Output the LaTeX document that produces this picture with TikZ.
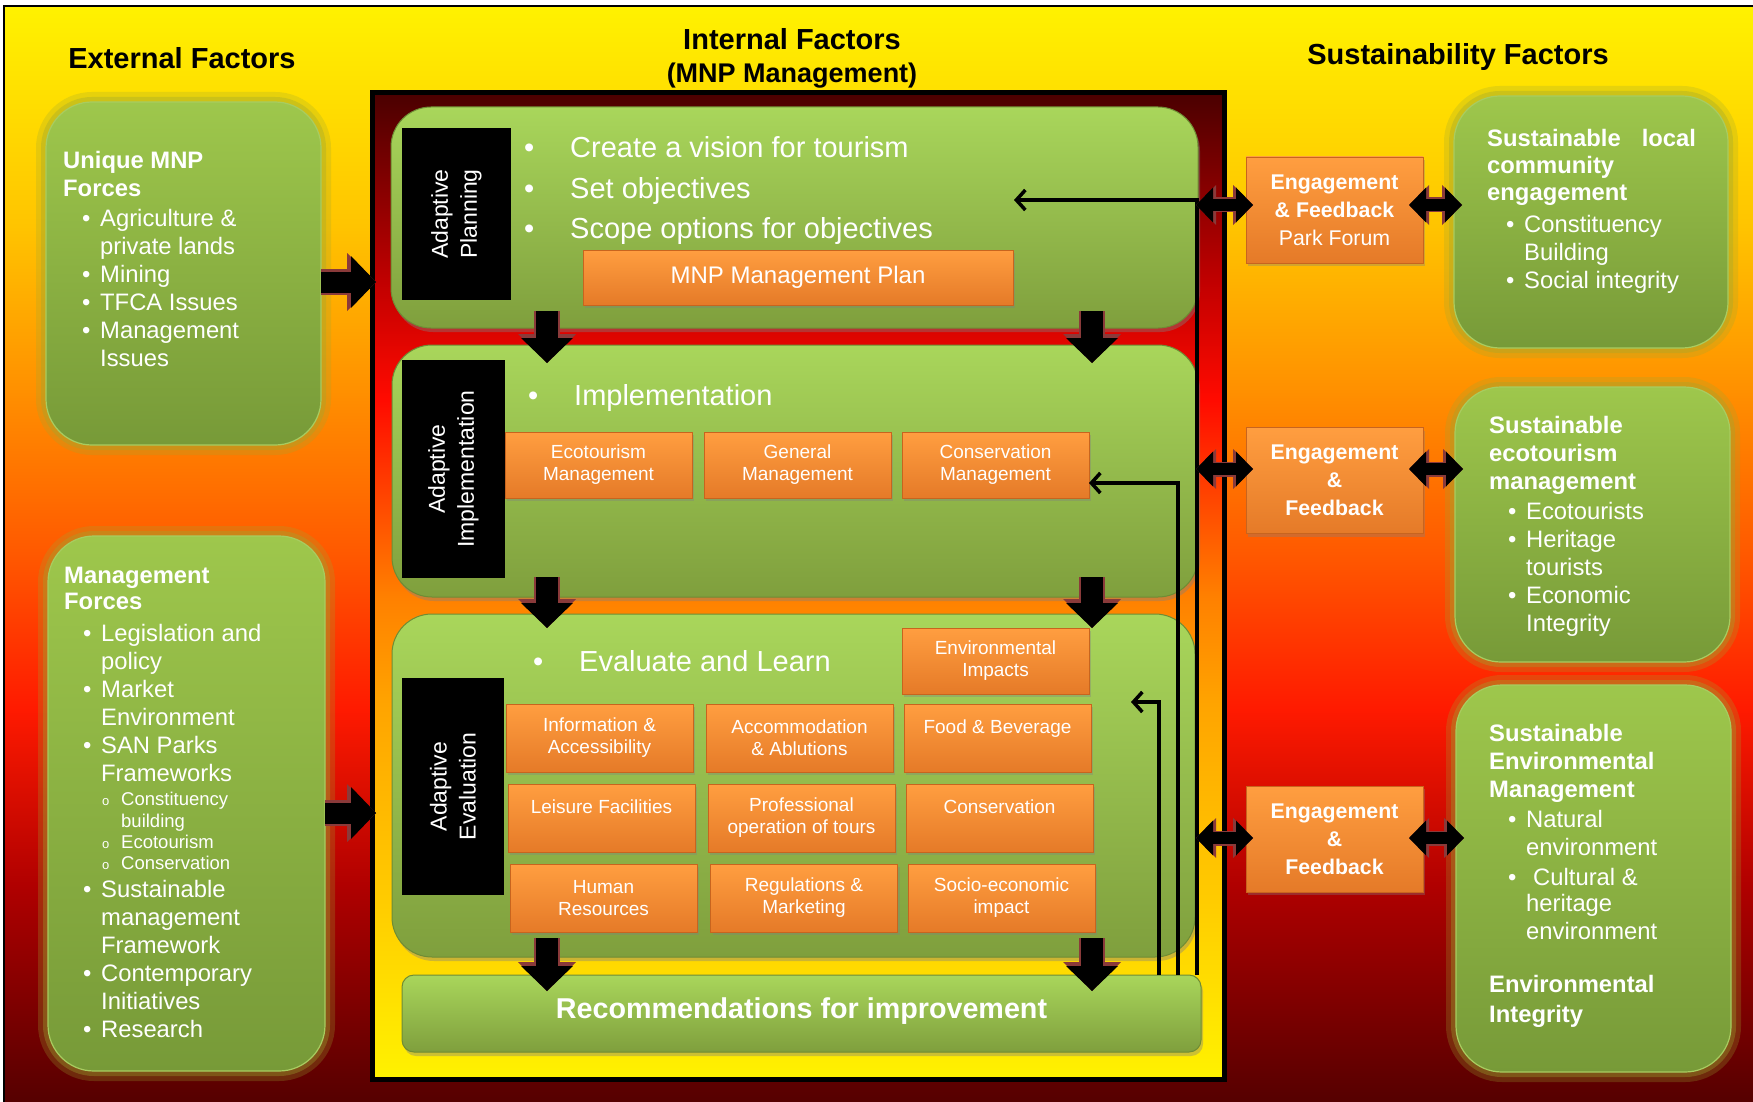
\documentclass[tikz,border=0pt]{standalone}
\usepackage{fontspec}
\setmainfont{Liberation Sans}
\usetikzlibrary{arrows.meta,shadows}

\definecolor{bgyellow}{HTML}{FFF200}
\definecolor{bggold}{HTML}{FFC400}
\definecolor{bgorange}{HTML}{FF9000}
\definecolor{bgdeep}{HTML}{FF5800}
\definecolor{bgred}{HTML}{FF1A00}
\definecolor{bgmaroon}{HTML}{B00000}
\definecolor{bgdark}{HTML}{540000}
\definecolor{frdark}{HTML}{4A0000}
\definecolor{frbrown}{HTML}{700000}
\definecolor{frcrimson}{HTML}{C00000}
\definecolor{frred}{HTML}{FF0A00}
\definecolor{frorange}{HTML}{FF8000}
\definecolor{framber}{HTML}{FFA400}
\definecolor{frgold}{HTML}{FFCC00}
\definecolor{greentop}{HTML}{9EC74C}
\definecolor{greenbot}{HTML}{779A38}
\definecolor{greenedge}{HTML}{A8CC60}
\definecolor{glowc}{HTML}{9CA830}
\definecolor{igreentop}{HTML}{A9D65B}
\definecolor{igreenbot}{HTML}{7F9F3D}
\definecolor{igreenedge}{HTML}{6F8C34}
\definecolor{orangetop}{HTML}{FF9E40}
\definecolor{orangebot}{HTML}{E57A28}
\definecolor{orangeedge}{HTML}{C8641E}
\definecolor{arrowrim}{HTML}{8A3A3A}

\pgfdeclareverticalshading{bgshade}{100bp}{color(0bp)=(bgdark); color(25bp)=(bgdark); color(35bp)=(bgmaroon); color(43bp)=(bgred); color(50bp)=(bgdeep); color(57.5bp)=(bgorange); color(65bp)=(bggold); color(75bp)=(bgyellow); color(100bp)=(bgyellow)}
\pgfdeclareverticalshading{frameshade}{100bp}{color(0bp)=(bgyellow); color(25bp)=(bgyellow); color(34bp)=(frgold); color(44bp)=(framber); color(49.5bp)=(frorange); color(59.5bp)=(frred); color(65.5bp)=(frcrimson); color(72bp)=(frbrown); color(75bp)=(frdark); color(100bp)=(frdark)}

\newcommand{\fsz}[2]{\fontsize{#1}{#2}\selectfont}
\newcommand{\bitem}{\hspace*{19pt}\makebox[18pt][l]{\textbullet}}
\newcommand{\bcont}{\hspace*{37pt}}
\newcommand{\sitem}{\hspace*{38pt}\makebox[19pt][l]{\fsz{13}{13}o}}
\newcommand{\scont}{\hspace*{57pt}}
\newcommand{\bigb}{\makebox[46pt][l]{\textbullet}}

\begin{document}
\begin{tikzpicture}[x=1pt,y=-1pt,
	ttl/.style={font=\bfseries\fsz{29}{33}, text=black, align=center},
	lst/.style={font=\fsz{23.8}{28}, text=white, align=left, anchor=north west, inner sep=0pt},
	big/.style={font=\fsz{29}{40.5}, text=white, align=left, anchor=base west, inner sep=0pt},
	outbox/.style={rounded corners=46pt, top color=greentop, bottom color=greenbot, draw=greenedge, line width=1.2pt, inner sep=0pt, outer sep=0pt,
		preaction={draw=glowc, line width=20pt, opacity=.25},
		preaction={draw=glowc, line width=10pt, opacity=.35}},
	inbox/.style={rounded corners=40pt, top color=igreentop, bottom color=igreenbot, draw=igreenedge, line width=1pt, inner sep=0pt, outer sep=0pt,
		drop shadow={shadow xshift=2pt, shadow yshift=-4pt, opacity=.4}},
	blackbox/.style={fill=black, text=white, rotate=90, align=center, font=\fsz{23}{29}, inner sep=0pt, outer sep=0pt},
	obox/.style={top color=orangetop, bottom color=orangebot, draw=orangeedge, line width=.8pt, text=white, align=center, font=\fsz{19}{22},
		minimum width=187pt, minimum height=68pt, inner sep=2pt, outer sep=0pt, drop shadow={shadow xshift=2pt, shadow yshift=-3pt, opacity=.35}},
	engbox/.style={obox, font=\fsz{21.3}{28}, minimum width=177pt, minimum height=106pt},
	blk/.style={draw=black, line width=22pt, -{Triangle[length=25pt,width=52pt,line width=0pt]},
		preaction={draw=arrowrim, line width=26pt, -{Triangle[length=29pt,width=58pt,line width=0pt]}}},
	dbl/.style={draw=black, line width=12pt, {Triangle[length=17pt,width=35pt,line width=0pt]}-{Triangle[length=17pt,width=35pt,line width=0pt]},
		preaction={draw=arrowrim, line width=15pt, {Triangle[length=20pt,width=40pt,line width=0pt]}-{Triangle[length=20pt,width=40pt,line width=0pt]}}},
	fb/.style={draw=black, line width=3.5pt, -{Straight Barb[length=9pt,width=20pt]}}
]
\useasboundingbox (0,0) rectangle (1753,1102);
\shadedraw[shading=bgshade, draw=black, line width=1.5pt] (4,6) rectangle (1756,1105);

% titles
\node[ttl] (extttl) at (182,58) {External Factors};
\node[ttl] (intttl) at (792,58.5) {Internal Factors\\{\fsz{27}{33}(MNP Management)}};
\node[ttl] (susttl) at (1458,57) {Sustainability Factors};

% external and sustainability boxes
\node[outbox, minimum width=275pt, minimum height=343pt] (uqbox) at (183.5,273.5) {};
\node[outbox, minimum width=277pt, minimum height=535pt] (mgbox) at (186.5,803.5) {};
\node[outbox, minimum width=274pt, minimum height=252pt] (susA) at (1591,222) {};
\node[outbox, minimum width=275pt, minimum height=275pt] (susB) at (1592.5,524.5) {};
\node[outbox, minimum width=275pt, minimum height=387pt] (susC) at (1593.5,878.5) {};

\node[lst] (uqtxt) at (63,148.9) {\strut\textbf{Unique MNP}\\\textbf{Forces}\\[2pt]
	\bitem Agriculture \&\\\bcont private lands\\\bitem Mining\\\bitem TFCA Issues\\\bitem Management\\\bcont Issues};
\node[lst] (mgtxt) at (64,563.9) {\strut\textbf{Management}\\[-2pt]\textbf{Forces}\\[4pt]
	\bitem Legislation and\\\bcont policy\\\bitem Market\\\bcont Environment\\\bitem SAN Parks\\\bcont Frameworks\\[-4pt]
	{\fsz{18.5}{21}\sitem Constituency}\\[-6.7pt]{\fsz{18.5}{21}\scont building}\\[-6.7pt]
	{\fsz{18.5}{21}\sitem Ecotourism}\\[-6.7pt]{\fsz{18.5}{21}\sitem Conservation}\\
	\bitem Sustainable\\\bcont management\\\bcont Framework\\\bitem Contemporary\\\bcont Initiatives\\\bitem Research};
\node[lst] (susAtxt) at (1487,126.9) {\strut\textbf{Sustainable\hspace{21pt}local}\\[-1pt]\textbf{community}\\[-1pt]\textbf{engagement}\\[4pt]
	\bitem Constituency\\\bcont Building\\\bitem Social integrity};
\node[lst] (susBtxt) at (1489,414) {\strut\textbf{Sustainable}\\\textbf{ecotourism}\\\textbf{management}\\[2pt]
	\bitem Ecotourists\\\bitem Heritage\\\bcont tourists\\\bitem Economic\\\bcont Integrity};
\node[lst] (susCtxt) at (1489,722) {\strut\textbf{Sustainable}\\\textbf{Environmental}\\\textbf{Management}\\[2pt]
	\bitem Natural\\\bcont environment\\[2pt]\bitem\hspace{7pt}Cultural \&\\[-2pt]\bcont heritage\\\bcont environment\\[25pt]
	\textbf{Environmental}\\[2pt]\textbf{Integrity}};

% internal factors
\node[draw=black, line width=5pt, shade, shading=frameshade, minimum width=852pt, minimum height=986pt, inner sep=0pt, outer sep=0pt] (frame) at (798,586) {};

\node[inbox, minimum width=807pt, minimum height=221pt] (plan) at (794.5,217.5) {};
\node[inbox, minimum width=806pt, minimum height=252pt] (impl) at (795,471) {};
\node[inbox, minimum width=803pt, minimum height=343pt] (eval) at (793.5,785.5) {};
\node[inbox, rounded corners=12pt, minimum width=799pt, minimum height=77pt, text=white, font=\bfseries\fsz{28.7}{33}] (rec) at (801.5,1013.5) {\raisebox{10pt}{Recommendations for improvement}};

\node[blackbox, minimum width=172pt, minimum height=109pt] (bplan) at (456.5,214) {Adaptive\\Planning};
\node[blackbox, minimum width=218pt, minimum height=103pt] (bimpl) at (453.5,469) {Adaptive\\Implementation};
\node[blackbox, minimum width=217pt, minimum height=102pt] (beval) at (453,786.5) {Adaptive\\Evaluation};

\node[big, anchor=north west] (plantxt) at (524,129.2) {\strut\bigb Create a vision for tourism\\\bigb Set objectives\\\bigb Scope options for objectives};
\node[big] (impltxt) at (528,405.5) {\bigb Implementation};
\node[big] (evaltxt) at (533,671.5) {\bigb Evaluate and Learn};

\node[obox, minimum width=430pt, minimum height=55pt, font=\fsz{24}{28}] (mnpplan) at (798,277.5) {MNP Management Plan};
\node[obox, minimum height=66pt] (ecoM) at (598.5,465) {Ecotourism\\Management};
\node[obox, minimum height=66pt] (genM) at (797.5,465) {General\\Management};
\node[obox, minimum height=66pt] (conM) at (995.5,465) {Conservation\\Management};
\node[obox, minimum height=66pt] (envI) at (995.5,661) {Environmental\\Impacts};
\node[obox] (info) at (599.5,738) {Information \&\\Accessibility};
\node[obox] (acco) at (799.5,738) {Accommodation\\\& Ablutions};
\node[obox] (food) at (997.5,738) {Food \& Beverage\\~};
\node[obox] (leis) at (601.5,818) {Leisure Facilities\\~};
\node[obox] (prof) at (801.5,818) {Professional\\operation of tours};
\node[obox] (cons) at (999.5,818) {Conservation\\~};
\node[obox] (hr) at (603.5,898) {Human\\Resources};
\node[obox] (reg) at (804,898) {Regulations \&\\Marketing};
\node[obox] (socio) at (1001.5,898) {Socio-economic\\impact};

% engagement
\node[engbox] (eng1) at (1334.5,210) {\textbf{Engagement}\\\textbf{\& Feedback}\\Park Forum};
\node[engbox, font=\bfseries\fsz{21.3}{28}] (eng2) at (1334.5,480.5) {Engagement\\\&\\Feedback};
\node[engbox, font=\bfseries\fsz{21.3}{28}] (eng3) at (1334.5,839) {Engagement\\\&\\Feedback};

% feedback lines
\coordinate (railA) at (1197,0);
\coordinate (railB) at (1178,0);
\coordinate (railC) at (1159,0);
\coordinate (tipA) at (1014,200);
\coordinate (tipC) at (1131,702);
\draw[fb] (rec.north -| railA) |- (tipA);
\draw[fb] (rec.north -| railB) |- ([yshift=-18pt]conM.east);
\draw[fb] (rec.north -| railC) |- (tipC);

% block arrows
\coordinate (colL) at (547,0);
\coordinate (colR) at (1092,0);
\foreach \c in {colL,colR}{
	\draw[blk, shorten <=-17pt, shorten >=-18pt] (plan.south -| \c) -- (impl.north -| \c);
	\draw[blk, shorten <=-20pt, shorten >=-14pt] (impl.south -| \c) -- (eval.north -| \c);
	\draw[blk, shorten <=-19pt, shorten >=-16pt] (eval.south -| \c) -- (rec.north -| \c);
}
\coordinate (rowA) at (0,282);
\coordinate (rowB) at (0,813);
\draw[blk, line width=21pt, shorten >=-4pt] (uqbox.east |- rowA) -- (frame.west |- rowA);
\draw[blk, line width=21pt, shorten >=-4pt] (mgbox.east |- rowB) -- (frame.west |- rowB);

\coordinate (rowC) at (0,205);
\coordinate (rowD) at (0,469);
\coordinate (rowE) at (0,838);
\foreach \rw/\en/\su in {rowC/eng1/susA, rowD/eng2/susB, rowE/eng3/susC}{
	\draw[dbl, shorten <=-2pt, shorten >=-7pt] (plan.east |- \rw) -- (\en.west |- \rw);
	\draw[dbl, shorten <=-14pt, shorten >=-8pt] (\en.east |- \rw) -- (\su.west |- \rw);
}
\end{tikzpicture}
\end{document}
